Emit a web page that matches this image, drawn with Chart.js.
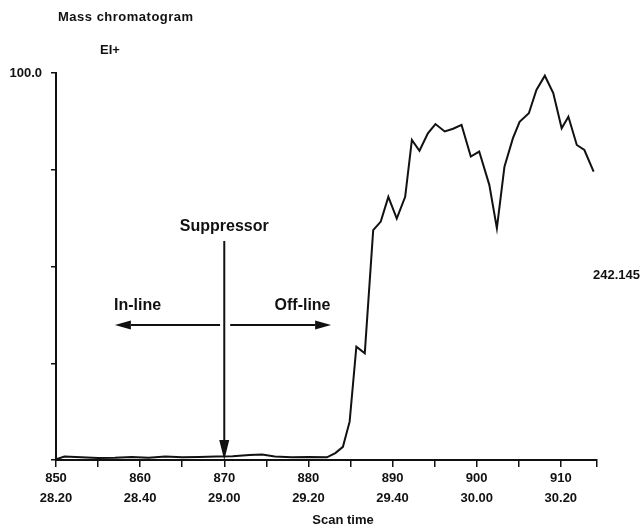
<!DOCTYPE html>
<html>
<head>
<meta charset="utf-8">
<script src="https://cdn.jsdelivr.net/npm/chart.js@4/dist/chart.umd.min.js"></script>
<style>
    body { margin: 0; background: #fff; }
    canvas { display: block; }
</style>
</head>
<body>
<canvas id="chromChart" width="642" height="528"></canvas>
<script>
// ==========================================
// DATA
// ==========================================
const scans = [
    850, 851, 853, 855, 857, 859, 861, 863, 865, 867, 869, 871, 873, 874.5, 876, 878, 880, 882.2,
    883.2, 884.1, 884.9, 885.7, 886.7, 887.7, 888.6, 889.5, 890.5, 891.5, 892.3, 893.2, 894.2, 895.1,
    896.2, 897.2, 898.2, 899.3, 900.3, 901.5, 902.4, 903.3, 904.3, 905.1, 906.2, 907.1, 908.1, 909.1,
    910.1, 910.9, 911.9, 912.8, 913.9
];
const intensity = [
    0.2, 0.9, 0.7, 0.5, 0.6, 0.8, 0.6, 0.9, 0.7, 0.8, 0.9, 1.0, 1.3, 1.4, 0.9, 0.7, 0.8, 0.7,
    1.8, 3.4, 9.9, 29.3, 27.6, 59.4, 61.6, 68.0, 62.4, 68.0, 82.7, 79.9, 84.4, 86.8,
    84.9, 85.6, 86.6, 78.4, 79.7, 71.1, 59.9, 75.8, 83.1, 87.4, 89.6, 95.6, 99.3, 94.8,
    85.7, 88.7, 81.4, 80.1, 74.5
];

// x ticks: every 5 scans plus the end of the axis, labels every 10
const tickScans = [850, 855, 860, 865, 870, 875, 880, 885, 890, 895, 900, 905, 910, 914.3];
const scanLabels = ['850', '860', '870', '880', '890', '900', '910'];
const timeLabels = ['28.20', '28.40', '29.00', '29.20', '29.40', '30.00', '30.20'];
const yTicks = [0, 25, 50, 75, 100];

const ink = '#111';
const fontFam = '"Liberation Sans", Arial, Helvetica, sans-serif';

Chart.defaults.font.family = fontFam;
Chart.defaults.font.weight = 'bold';
Chart.defaults.font.size = 13;
Chart.defaults.color = ink;

// arrow with filled head, tip at (x2, y2)
function arrow(ctx, x1, y1, x2, y2, headLen, headHalf) {
    const ang = Math.atan2(y2 - y1, x2 - x1);
    const bx = x2 - Math.cos(ang) * headLen, by = y2 - Math.sin(ang) * headLen;
    ctx.beginPath();
    ctx.moveTo(x1, y1);
    ctx.lineTo(bx, by);
    ctx.stroke();
    ctx.beginPath();
    ctx.moveTo(x2, y2);
    ctx.lineTo(bx + Math.sin(ang) * headHalf, by - Math.cos(ang) * headHalf);
    ctx.lineTo(bx - Math.sin(ang) * headHalf, by + Math.cos(ang) * headHalf);
    ctx.closePath();
    ctx.fill();
}

// Texts and suppressor arrows
const notesPlugin = {
    id: 'notes',
    afterDraw(chart) {
        const { ctx, scales: { x, y }, chartArea } = chart;
        ctx.save();
        ctx.fillStyle = ink;
        ctx.strokeStyle = ink;
        ctx.textBaseline = 'middle';

        ctx.font = `bold 13px ${fontFam}`;
        ctx.textAlign = 'left';
        ctx.letterSpacing = '0.5px';
        ctx.fillText('Mass chromatogram', 58, 17);
        ctx.letterSpacing = '0px';
        ctx.fillText('EI+', 100, 50);
        ctx.fillText('242.145', chartArea.right - 4, 275);
        ctx.textAlign = 'center';
        ctx.fillText('Scan time', 343, 520);

        ctx.font = `bold 16px ${fontFam}`;
        ctx.fillText('Suppressor', x.getPixelForValue(870), y.getPixelForValue(60.2));
        ctx.fillText('In-line', x.getPixelForValue(859.7), y.getPixelForValue(40));
        ctx.fillText('Off-line', x.getPixelForValue(879.3), y.getPixelForValue(40));

        ctx.lineWidth = 2;
        const sx = x.getPixelForValue(870);
        arrow(ctx, sx, y.getPixelForValue(56.6), sx, y.getPixelForValue(0), 20, 5);
        const ay = y.getPixelForValue(34.9);
        arrow(ctx, x.getPixelForValue(869.5), ay, x.getPixelForValue(857.0), ay, 16, 4.5);
        arrow(ctx, x.getPixelForValue(870.7), ay, x.getPixelForValue(882.7), ay, 16, 4.5);
        ctx.restore();
    }
};

new Chart(document.getElementById('chromChart'), {
    type: 'line',
    data: {
        datasets: [{
            data: scans.map((s, i) => ({ x: s, y: intensity[i] })),
            borderColor: ink,
            borderWidth: 2,
            pointRadius: 0,
            tension: 0,
            fill: false
        }]
    },
    options: {
        responsive: false,
        animation: false,
        layout: { padding: { top: 73, right: 45, left: 0, bottom: 0 } },
        plugins: { legend: { display: false }, tooltip: { enabled: false } },
        scales: {
            x: {
                type: 'linear',
                min: 850,
                max: 914.3,
                afterBuildTicks: (scale) => { scale.ticks = tickScans.map(v => ({ value: v })); },
                afterFit: (scale) => { scale.height = 68; },
                border: { display: true, color: ink, width: 2 },
                grid: { drawOnChartArea: false, drawTicks: true, tickLength: 7, color: ink, lineWidth: 1.5 },
                ticks: {
                    autoSkip: false,
                    maxRotation: 0,
                    padding: 1,
                    font: { size: 13, weight: 'bold', lineHeight: 20 / 13 },
                    callback: (v) => {
                        const i = scanLabels.indexOf(String(v));
                        return i < 0 ? '' : [scanLabels[i], timeLabels[i]];
                    }
                }
            },
            y: {
                min: 0,
                max: 100,
                afterBuildTicks: (scale) => { scale.ticks = yTicks.map(v => ({ value: v })); },
                afterFit: (scale) => { scale.width = 56; },
                border: { display: true, color: ink, width: 2 },
                grid: { drawOnChartArea: false, drawTicks: true, tickLength: 5, color: ink, lineWidth: 1.5 },
                ticks: {
                    padding: 9,
                    callback: (v) => v === 100 ? '100.0' : ''
                }
            }
        }
    },
    plugins: [notesPlugin]
});
</script>
</body>
</html>
